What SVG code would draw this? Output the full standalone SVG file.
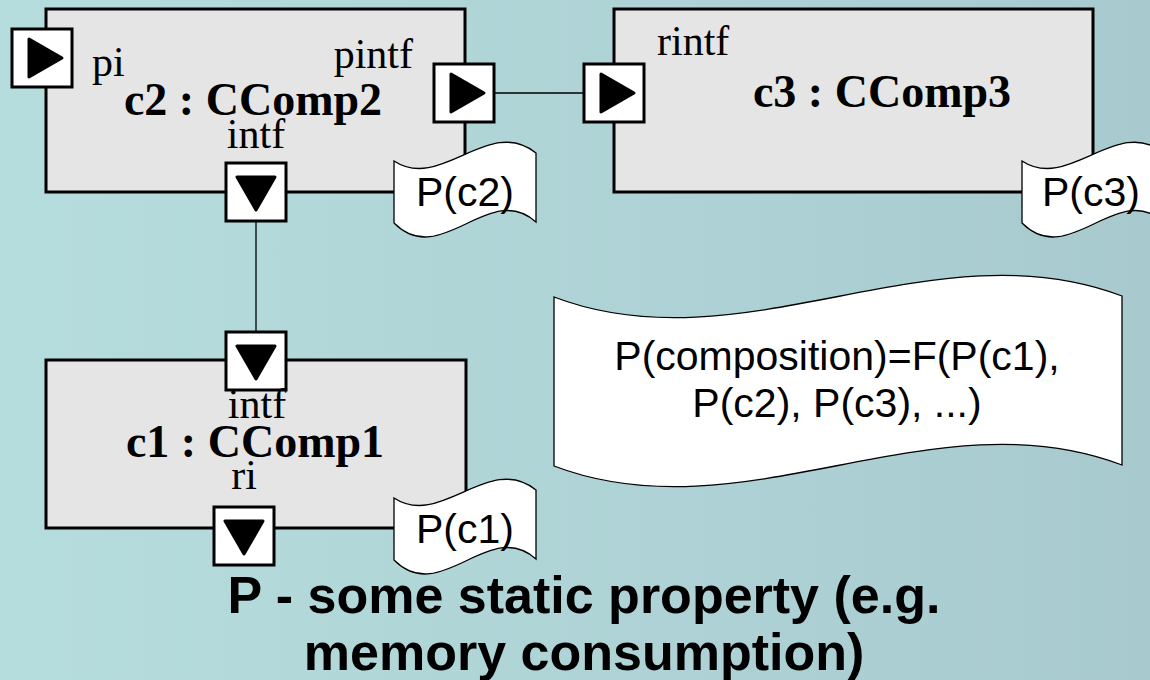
<svg xmlns="http://www.w3.org/2000/svg" xmlns:xlink="http://www.w3.org/1999/xlink" width="1150" height="680" viewBox="0 0 1150 680">
  <defs>
    <linearGradient id="bg" x1="0" y1="0" x2="1" y2="0">
      <stop offset="0" stop-color="#b6dddd"/>
      <stop offset="1" stop-color="#a8cacf"/>
    </linearGradient>
    <!-- port with a right-pointing arrow -->
    <g id="portR">
      <rect x="0" y="0" width="60" height="58" class="port"/>
      <path d="M17,10 L50,29 L17,48 Z" class="arrow"/>
    </g>
    <!-- port with a down-pointing arrow -->
    <g id="portD">
      <rect x="0" y="0" width="60" height="58" class="port"/>
      <path d="M11,14 L49,14 L30,47 Z" class="arrow"/>
    </g>
  </defs>
  <style>
    .comp { fill: #e5e5e5; stroke: #000; stroke-width: 3; }
    .port { fill: #fff; stroke: #000; stroke-width: 3; }
    .arrow { fill: #000; stroke: #000; stroke-width: 3; stroke-linejoin: round; }
    .tape { fill: #fff; stroke: #000; stroke-width: 1.3; }
    .wire { stroke: #000; stroke-width: 1.3; fill: none; }
    .lbl { font-family: "Liberation Serif", "Times New Roman", serif; font-size: 42px; fill: #000; }
    .name { font-family: "Liberation Serif", "Times New Roman", serif; font-size: 46px; font-weight: bold; fill: #000; }
    .prop { font-family: "Liberation Sans", Arial, sans-serif; font-size: 41px; fill: #000; }
    .title { font-family: "Liberation Sans", Arial, sans-serif; font-size: 52px; font-weight: bold; fill: #000; }
  </style>

  <rect x="0" y="0" width="1150" height="680" fill="url(#bg)"/>

  <!-- connectors -->
  <g id="connectors">
    <line class="wire" x1="495" y1="93" x2="584" y2="93"/>
    <line class="wire" x1="256" y1="221" x2="256" y2="332"/>
  </g>

  <!-- c2 : CComp2 -->
  <g id="c2">
    <rect class="comp" x="46" y="9" width="419" height="183"/>
    <use xlink:href="#portR" x="12" y="29"/>
    <use xlink:href="#portR" x="434" y="64"/>
    <use xlink:href="#portD" x="226" y="163"/>
    <text class="lbl" x="92" y="76">pi</text>
    <text class="lbl" x="413" y="68" text-anchor="end">pintf</text>
    <text class="name" x="253" y="115" text-anchor="middle">c2 : CComp2</text>
    <text class="lbl" x="256" y="148" text-anchor="middle">intf</text>
  </g>

  <!-- c3 : CComp3 -->
  <g id="c3">
    <rect class="comp" x="614" y="9" width="479" height="183"/>
    <use xlink:href="#portR" x="584" y="64"/>
    <text class="lbl" x="657" y="55">rintf</text>
    <text class="name" x="882" y="107" text-anchor="middle">c3 : CComp3</text>
  </g>

  <!-- c1 : CComp1 -->
  <g id="c1">
    <rect class="comp" x="46" y="360" width="420" height="168"/>
    <use xlink:href="#portD" x="226" y="332"/>
    <use xlink:href="#portD" x="214" y="507"/>
    <text class="lbl" x="257" y="418" text-anchor="middle">intf</text>
    <text class="name" x="255" y="457" text-anchor="middle">c1 : CComp1</text>
    <text class="lbl" x="244" y="489" text-anchor="middle">ri</text>
  </g>

  <!-- property tags -->
  <g id="p-c2">
    <path class="tape" d="M394,161 C441,192 489,115 536,153 L536,222 C489,180 441,270 394,223 Z"/>
    <text class="prop" x="465" y="206" text-anchor="middle">P(c2)</text>
  </g>
  <g id="p-c3">
    <path class="tape" d="M1022,161 C1069,192 1117,115 1164,153 L1164,222 C1117,180 1069,270 1022,223 Z"/>
    <text class="prop" x="1091" y="206" text-anchor="middle">P(c3)</text>
  </g>
  <g id="p-c1">
    <path class="tape" d="M394,498 C441,529 489,452 536,490 L536,559 C489,517 441,607 394,560 Z"/>
    <text class="prop" x="465" y="543" text-anchor="middle">P(c1)</text>
  </g>

  <!-- composition formula -->
  <g id="composition">
    <path class="tape" d="M554,297 C743,369 933,224 1122,296 L1122,465 C933,393 743,538 554,466 Z"/>
    <text class="prop" font-size="44" x="837" y="370" text-anchor="middle">P(composition)=F(P(c1),</text>
    <text class="prop" font-size="44" x="837" y="417" text-anchor="middle">P(c2), P(c3), ...)</text>
  </g>

  <!-- caption -->
  <g id="caption">
    <text class="title" x="584" y="613" text-anchor="middle">P - some static property (e.g.</text>
    <text class="title" x="584" y="670" text-anchor="middle">memory consumption)</text>
  </g>
</svg>
